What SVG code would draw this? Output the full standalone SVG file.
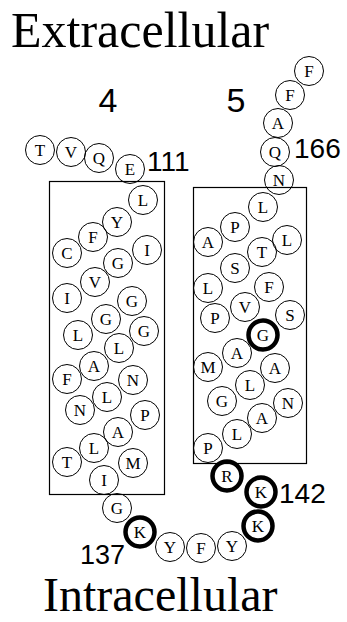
<svg xmlns="http://www.w3.org/2000/svg" width="347" height="622" viewBox="0 0 347 622">
<style>
.c{fill:none;stroke:#000;stroke-width:1}
.b{fill:none;stroke:#000;stroke-width:4.5}
.t{font-family:"Liberation Serif","Times New Roman",serif;font-size:17px;text-anchor:middle;fill:#000}
.box{fill:none;stroke:#000;stroke-width:1.2}
.title{font-family:"Liberation Serif","Times New Roman",serif;font-size:50px;fill:#000}
.num{font-family:"Liberation Sans",Arial,sans-serif;font-size:28px;fill:#000}
.hx{font-family:"Liberation Sans",Arial,sans-serif;font-size:34px;fill:#000;text-anchor:middle}
</style>
<rect width="347" height="622" fill="#fff"/>
<text class="title" x="11" y="47">Extracellular</text>
<text class="title" x="43" y="611" style="font-size:48px">Intracellular</text>
<text class="hx" x="108" y="112">4</text>
<text class="hx" x="236" y="112">5</text>
<text class="num" x="147" y="171">111</text>
<text class="num" x="294" y="158">166</text>
<text class="num" x="279" y="503">142</text>
<text class="num" x="80" y="564" style="font-size:27px">137</text>
<g id="membrane">
<rect id="helix4" class="box" x="49.5" y="181.5" width="115" height="313"/>
<rect id="helix5" class="box" x="193.5" y="187.5" width="113" height="276"/>
</g>
<g id="connectors"/>
<g id="residues">
<g id="r-T1"><circle class="c" cx="40" cy="150" r="14.5"/><text class="t" x="40" y="156">T</text></g>
<g id="r-V1"><circle class="c" cx="71" cy="152" r="14.5"/><text class="t" x="71" y="158">V</text></g>
<g id="r-Q1"><circle class="c" cx="99" cy="158" r="14.5"/><text class="t" x="99" y="164">Q</text></g>
<g id="r-E111"><circle class="c" cx="130" cy="169" r="14.5"/><text class="t" x="130" y="175">E</text></g>
<g id="r-L1"><circle class="c" cx="143" cy="200" r="14.5"/><text class="t" x="143" y="206">L</text></g>
<g id="r-Y1"><circle class="c" cx="117" cy="222" r="14.5"/><text class="t" x="117" y="228">Y</text></g>
<g id="r-F1"><circle class="c" cx="93" cy="237" r="14.5"/><text class="t" x="93" y="243">F</text></g>
<g id="r-C1"><circle class="c" cx="67" cy="253" r="14.5"/><text class="t" x="67" y="259">C</text></g>
<g id="r-I1"><circle class="c" cx="147" cy="250" r="14.5"/><text class="t" x="147" y="256">I</text></g>
<g id="r-G1"><circle class="c" cx="118" cy="263" r="14.5"/><text class="t" x="118" y="269">G</text></g>
<g id="r-V2"><circle class="c" cx="95" cy="282" r="14.5"/><text class="t" x="95" y="288">V</text></g>
<g id="r-I2"><circle class="c" cx="67" cy="298" r="14.5"/><text class="t" x="67" y="304">I</text></g>
<g id="r-G2"><circle class="c" cx="132" cy="301" r="14.5"/><text class="t" x="132" y="307">G</text></g>
<g id="r-G3"><circle class="c" cx="106" cy="319" r="14.5"/><text class="t" x="106" y="325">G</text></g>
<g id="r-L2"><circle class="c" cx="78" cy="335" r="14.5"/><text class="t" x="78" y="341">L</text></g>
<g id="r-G4"><circle class="c" cx="144" cy="331" r="14.5"/><text class="t" x="144" y="337">G</text></g>
<g id="r-L3"><circle class="c" cx="119" cy="348" r="14.5"/><text class="t" x="119" y="354">L</text></g>
<g id="r-A1"><circle class="c" cx="94" cy="366" r="14.5"/><text class="t" x="94" y="372">A</text></g>
<g id="r-F2"><circle class="c" cx="67" cy="379" r="14.5"/><text class="t" x="67" y="385">F</text></g>
<g id="r-N1"><circle class="c" cx="133" cy="380" r="14.5"/><text class="t" x="133" y="386">N</text></g>
<g id="r-L4"><circle class="c" cx="107" cy="397" r="14.5"/><text class="t" x="107" y="403">L</text></g>
<g id="r-N2"><circle class="c" cx="80" cy="410" r="14.5"/><text class="t" x="80" y="416">N</text></g>
<g id="r-P1"><circle class="c" cx="145" cy="415" r="14.5"/><text class="t" x="145" y="421">P</text></g>
<g id="r-A2"><circle class="c" cx="118" cy="432" r="14.5"/><text class="t" x="118" y="438">A</text></g>
<g id="r-L5"><circle class="c" cx="94" cy="448" r="14.5"/><text class="t" x="94" y="454">L</text></g>
<g id="r-T2"><circle class="c" cx="67" cy="462" r="14.5"/><text class="t" x="67" y="468">T</text></g>
<g id="r-M1"><circle class="c" cx="133" cy="463" r="14.5"/><text class="t" x="133" y="469">M</text></g>
<g id="r-I3"><circle class="c" cx="104" cy="480" r="14.5"/><text class="t" x="104" y="486">I</text></g>
<g id="r-G5"><circle class="c" cx="117" cy="508" r="14.5"/><text class="t" x="117" y="514">G</text></g>
<g id="r-K137"><circle class="b" cx="140" cy="532" r="14.5"/><text class="t" x="140" y="538">K</text></g>
<g id="r-Y2"><circle class="c" cx="170" cy="547" r="14.5"/><text class="t" x="170" y="553">Y</text></g>
<g id="r-F3"><circle class="c" cx="201" cy="548" r="14.5"/><text class="t" x="201" y="554">F</text></g>
<g id="r-Y3"><circle class="c" cx="232" cy="546" r="14.5"/><text class="t" x="232" y="552">Y</text></g>
<g id="r-K2"><circle class="b" cx="258" cy="526" r="14.5"/><text class="t" x="258" y="532">K</text></g>
<g id="r-K142"><circle class="b" cx="261" cy="492" r="14.5"/><text class="t" x="261" y="498">K</text></g>
<g id="r-R1"><circle class="b" cx="227" cy="476" r="14.5"/><text class="t" x="227" y="482">R</text></g>
<g id="r-P2"><circle class="c" cx="208" cy="448" r="14.5"/><text class="t" x="208" y="454">P</text></g>
<g id="r-L6"><circle class="c" cx="237" cy="434" r="14.5"/><text class="t" x="237" y="440">L</text></g>
<g id="r-A3"><circle class="c" cx="262" cy="418" r="14.5"/><text class="t" x="262" y="424">A</text></g>
<g id="r-N3"><circle class="c" cx="288" cy="403" r="14.5"/><text class="t" x="288" y="409">N</text></g>
<g id="r-G6"><circle class="c" cx="222" cy="401" r="14.5"/><text class="t" x="222" y="407">G</text></g>
<g id="r-L7"><circle class="c" cx="250" cy="385" r="14.5"/><text class="t" x="250" y="391">L</text></g>
<g id="r-A4"><circle class="c" cx="275" cy="368" r="14.5"/><text class="t" x="275" y="374">A</text></g>
<g id="r-M2"><circle class="c" cx="208" cy="367" r="14.5"/><text class="t" x="208" y="373">M</text></g>
<g id="r-A5"><circle class="c" cx="237" cy="353" r="14.5"/><text class="t" x="237" y="359">A</text></g>
<g id="r-G7"><circle class="b" cx="263" cy="335" r="14.5"/><text class="t" x="263" y="341">G</text></g>
<g id="r-S1"><circle class="c" cx="290" cy="315" r="14.5"/><text class="t" x="290" y="321">S</text></g>
<g id="r-P3"><circle class="c" cx="215" cy="318" r="14.5"/><text class="t" x="215" y="324">P</text></g>
<g id="r-V3"><circle class="c" cx="245" cy="307" r="14.5"/><text class="t" x="245" y="313">V</text></g>
<g id="r-F4"><circle class="c" cx="269" cy="287" r="14.5"/><text class="t" x="269" y="293">F</text></g>
<g id="r-L8"><circle class="c" cx="208" cy="288" r="14.5"/><text class="t" x="208" y="294">L</text></g>
<g id="r-S2"><circle class="c" cx="235" cy="268" r="14.5"/><text class="t" x="235" y="274">S</text></g>
<g id="r-T3"><circle class="c" cx="262" cy="252" r="14.5"/><text class="t" x="262" y="258">T</text></g>
<g id="r-L9"><circle class="c" cx="287" cy="240" r="14.5"/><text class="t" x="287" y="246">L</text></g>
<g id="r-A6"><circle class="c" cx="208" cy="242" r="14.5"/><text class="t" x="208" y="248">A</text></g>
<g id="r-P4"><circle class="c" cx="235" cy="227" r="14.5"/><text class="t" x="235" y="233">P</text></g>
<g id="r-L10"><circle class="c" cx="263" cy="207" r="14.5"/><text class="t" x="263" y="213">L</text></g>
<g id="r-N4"><circle class="c" cx="279" cy="180" r="14.5"/><text class="t" x="279" y="186">N</text></g>
<g id="r-Q166"><circle class="c" cx="275" cy="152" r="14.5"/><text class="t" x="275" y="158">Q</text></g>
<g id="r-A7"><circle class="c" cx="278" cy="123" r="14.5"/><text class="t" x="278" y="129">A</text></g>
<g id="r-F5"><circle class="c" cx="290" cy="95" r="14.5"/><text class="t" x="290" y="101">F</text></g>
<g id="r-F6"><circle class="c" cx="309" cy="71" r="14.5"/><text class="t" x="309" y="77">F</text></g>
</g>
</svg>
